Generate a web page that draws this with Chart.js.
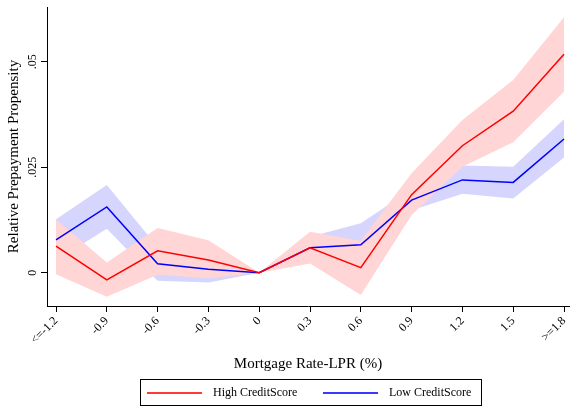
<!DOCTYPE html>
<html>
<head>
<meta charset="utf-8">
<script src="https://cdn.jsdelivr.net/npm/chart.js@4.4.1/dist/chart.umd.min.js"></script>
<style>
  html, body { margin: 0; padding: 0; background: #fff; }
  #wrap { position: relative; width: 571px; height: 409px; }
  #chart { position: absolute; left: 0; top: 0; }
  #legend {
    position: absolute; left: 140px; top: 379px; width: 342px; height: 27px;
    box-sizing: border-box; border: 1px solid #000;
    font-family: "Liberation Serif", "Times New Roman", serif; font-size: 12px; color: #000;
  }
  #legend .sw { position: absolute; top: 12px; width: 55px; height: 2px; }
  #legend .lb { position: absolute; top: 0; line-height: 25px; white-space: nowrap; }
</style>
</head>
<body>
<div id="wrap">
  <canvas id="chart" width="571" height="409"></canvas>
  <div id="legend">
    <span class="sw" style="left:6px;background:#ff3a3a;"></span>
    <span class="lb" style="left:72px;">High CreditScore</span>
    <span class="sw" style="left:182px;background:#3a3aff;"></span>
    <span class="lb" style="left:248px;">Low CreditScore</span>
  </div>
</div>
<script>
// Mortgage rate minus LPR (percentage points), binned
const rates = [-1.2, -0.9, -0.6, -0.3, 0, 0.3, 0.6, 0.9, 1.2, 1.5, 1.8];
const rateLabels = ['<=-1.2', '-0.9', '-0.6', '-0.3', '0', '0.3', '0.6', '0.9', '1.2', '1.5', '>=1.8'];

// High credit score borrowers: estimate and confidence band
const highMean  = [0.0063, -0.0017, 0.0052, 0.0030, 0, 0.0059, 0.0012, 0.0185, 0.0301, 0.0383, 0.0518];
const highUpper = [0.0127,  0.0024, 0.0106, 0.0077, 0, 0.0097, 0.0076, 0.0236, 0.0362, 0.0457, 0.0606];
const highLower = [-0.0004, -0.0057, -0.0005, -0.0013, 0, 0.0022, -0.0053, 0.0137, 0.0251, 0.0309, 0.0429];

// Low credit score borrowers: estimate and confidence band
const lowMean  = [0.0078, 0.0156, 0.0021, 0.0008, 0, 0.0059, 0.0066, 0.0172, 0.0220, 0.0214, 0.0317];
const lowUpper = [0.0127, 0.0208, 0.0061, 0.0039, 0, 0.0085, 0.0117, 0.0197, 0.0254, 0.0251, 0.0364];
const lowLower = [0.0029, 0.0104, -0.0019, -0.0023, 0, 0.0033, 0.0015, 0.0148, 0.0187, 0.0176, 0.0273];

const yTickValues = [0, 0.025, 0.05];
const yTickLabels = ['0', '.025', '.05'];

const serif = '"Liberation Serif", "Times New Roman", serif';
const pts = ys => rates.map((x, i) => ({ x: x, y: ys[i] }));

const lineStyle = { pointRadius: 0, pointHoverRadius: 0, tension: 0, fill: false };
const bandEdge = { pointRadius: 0, pointHoverRadius: 0, borderWidth: 0, borderColor: 'rgba(0,0,0,0)', tension: 0 };

new Chart(document.getElementById('chart'), {
  type: 'line',
  data: {
    datasets: [
      Object.assign({ label: 'High CreditScore', data: pts(highMean), borderColor: '#ff0000', borderWidth: 1.5 }, lineStyle),
      Object.assign({ label: 'Low CreditScore', data: pts(lowMean), borderColor: '#0000ff', borderWidth: 1.5 }, lineStyle),
      Object.assign({ label: 'High upper', data: pts(highUpper), fill: '+1', backgroundColor: '#ffd5d5' }, bandEdge),
      Object.assign({ label: 'High lower', data: pts(highLower), fill: false }, bandEdge),
      Object.assign({ label: 'Low upper', data: pts(lowUpper), fill: '+1', backgroundColor: '#d5d5fd' }, bandEdge),
      Object.assign({ label: 'Low lower', data: pts(lowLower), fill: false }, bandEdge)
    ]
  },
  options: {
    responsive: false,
    animation: false,
    events: [],
    layout: { padding: { left: 0, right: 2, top: 7, bottom: 37 } },
    plugins: { legend: { display: false }, tooltip: { enabled: false } },
    scales: {
      x: {
        type: 'linear',
        min: -1.2532,
        max: 1.8295,
        afterBuildTicks: s => { s.ticks = rates.map(v => ({ value: v })); },
        afterFit: s => { s.height = 66; s.paddingLeft = 0; s.paddingRight = 0; },
        ticks: {
          autoSkip: false, minRotation: 45, maxRotation: 45, padding: 2,
          color: '#000', font: { family: serif, size: 12 },
          callback: (v, i) => rateLabels[i]
        },
        grid: { drawOnChartArea: false, drawTicks: true, tickLength: 6, color: '#000' },
        border: { display: true, color: '#000', width: 1 },
        title: {
          display: true, text: 'Mortgage Rate-LPR (%)', color: '#000',
          font: { family: serif, size: 15 }, padding: { top: 0, bottom: -1 }
        }
      },
      y: {
        min: -0.0079,
        max: 0.0630,
        afterBuildTicks: s => { s.ticks = yTickValues.map(v => ({ value: v })); },
        afterFit: s => { s.width = 47; s.paddingTop = 0; s.paddingBottom = 0; },
        ticks: {
          minRotation: 90, maxRotation: 90, crossAlign: 'center', padding: -2.5,
          color: '#000', font: { family: serif, size: 12 },
          callback: (v, i) => yTickLabels[i]
        },
        grid: { drawOnChartArea: false, drawTicks: true, tickLength: 6, color: '#000' },
        border: { display: true, color: '#000', width: 1 },
        title: {
          display: true, text: 'Relative Prepayment Propensity', color: '#000',
          font: { family: serif, size: 15 }, padding: { top: 5, bottom: 0 }
        }
      }
    }
  }
});
</script>
</body>
</html>
